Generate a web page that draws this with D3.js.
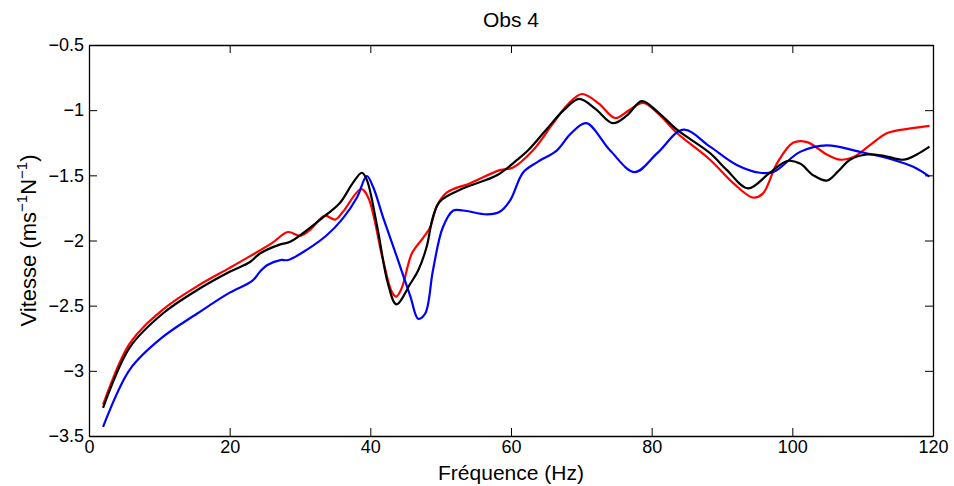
<!DOCTYPE html>
<html>
<head>
<meta charset="utf-8">
<script src="https://cdn.jsdelivr.net/npm/d3@7"></script>
<style>
body { margin: 0; background: #fff; }
text { font-family: "Liberation Sans", Arial, sans-serif; }
</style>
</head>
<body>
<div id="chart"></div>
<script>
var width = 954;
var height = 486;
var margin = {top: 45, right: 21, bottom: 50, left: 89};

// frequencies (Hz) and values
var blackFreq = [2, 5.8, 10.5, 15.4, 20, 22.9, 24.3, 27.2, 28.6, 31, 33.8, 35.7, 37.5, 38.8, 39.5, 41, 42.5, 43.7, 45.7, 46.8, 48, 48.9, 49.9, 53.2, 58, 60.9, 62.4, 65, 67.5, 69.7, 72, 74.5, 76.5, 78.6, 81, 83.6, 88.3, 90.7, 93.7, 96.8, 99.3, 101.1, 103, 104.9, 106.5, 108.2, 110.6, 113, 115.8, 117.7, 119.5];
var blackVal = [-3.285, -2.82, -2.56, -2.38, -2.24, -2.165, -2.10, -2.03, -2.01, -1.92, -1.80, -1.71, -1.56, -1.48, -1.535, -1.90, -2.33, -2.49, -2.33, -2.23, -2.05, -1.82, -1.70, -1.60, -1.50, -1.38, -1.31, -1.15, -1.0, -0.914, -0.99, -1.10, -1.04, -0.93, -1.02, -1.15, -1.33, -1.46, -1.60, -1.48, -1.39, -1.41, -1.50, -1.54, -1.47, -1.38, -1.34, -1.35, -1.38, -1.34, -1.28];

var redFreq = [2, 5.8, 10.5, 15.4, 20, 22.9, 26, 28.3, 30, 31.4, 33.5, 35, 36.1, 38.7, 39.7, 41.8, 43.1, 43.7, 44.5, 45.9, 47.5, 48.5, 49.5, 50.9, 54.2, 58.4, 60.3, 63.1, 66, 68, 70.1, 72.5, 74.8, 76.8, 78.8, 81, 83.6, 88.3, 91.6, 94.4, 95.8, 97.8, 100.1, 102.1, 104.9, 106.8, 108.7, 111, 113.5, 116.8, 119.5];
var redVal = [-3.26, -2.79, -2.53, -2.35, -2.21, -2.12, -2.02, -1.935, -1.965, -1.92, -1.81, -1.84, -1.78, -1.605, -1.67, -2.15, -2.40, -2.43, -2.36, -2.10, -1.98, -1.90, -1.73, -1.63, -1.56, -1.46, -1.44, -1.31, -1.10, -0.96, -0.876, -0.95, -1.06, -1.00, -0.945, -1.03, -1.175, -1.38, -1.56, -1.67, -1.64, -1.41, -1.25, -1.245, -1.34, -1.38, -1.36, -1.27, -1.175, -1.14, -1.12];

var blueFreq = [2, 5.8, 10.5, 15.4, 20, 23.2, 24.3, 25.3, 27.2, 28.3, 31, 33.8, 36.1, 38.1, 39.5, 40.4, 41.8, 43.8, 45.7, 46.8, 47.8, 48.9, 50.3, 51.8, 53.2, 56.6, 58.4, 59.9, 61.7, 63.7, 66.5, 68.5, 70.7, 74.1, 77.6, 80.8, 84.5, 88.3, 92.1, 95.4, 97.3, 101.1, 104.9, 109.6, 114.3, 117.2, 119.5];
var blueVal = [-3.43, -2.99, -2.74, -2.56, -2.40, -2.31, -2.24, -2.19, -2.15, -2.15, -2.07, -1.96, -1.83, -1.67, -1.505, -1.59, -1.82, -2.13, -2.43, -2.60, -2.56, -2.23, -1.90, -1.77, -1.77, -1.80, -1.78, -1.69, -1.48, -1.40, -1.31, -1.18, -1.10, -1.31, -1.475, -1.33, -1.15, -1.28, -1.42, -1.48, -1.475, -1.32, -1.27, -1.32, -1.38, -1.435, -1.51];

var xTicks = [0, 20, 40, 60, 80, 100, 120];
var yTicks = [-3.5, -3, -2.5, -2, -1.5, -1, -0.5];

var series = [
	{freq: redFreq, val: redVal, color: '#ff0000'},
	{freq: blueFreq, val: blueVal, color: '#0000ff'},
	{freq: blackFreq, val: blackVal, color: '#000000'}
];

var svg = d3.select('#chart').append('svg')
	.attr('width', width)
	.attr('height', height);

var x = d3.scaleLinear().domain([0, 120]).range([margin.left, width - margin.right]);
var y = d3.scaleLinear().domain([-3.5, -0.5]).range([height - margin.bottom, margin.top]);

var fmt = function(d){ return String(d).replace('-', '\u2212'); };

// curves
var line = d3.line()
	.x(function(d){ return x(d[0]); })
	.y(function(d){ return y(d[1]); })
	.curve(d3.curveCatmullRom.alpha(0.5));

series.forEach(function(s){
	svg.append('path')
		.datum(s.freq.map(function(f, i){ return [f, s.val[i]]; }))
		.attr('fill', 'none')
		.attr('stroke', s.color)
		.attr('stroke-width', 2.2)
		.attr('stroke-linejoin', 'round')
		.attr('d', line);
});

// axes, ticks inward like matlab
var tl = 8;
svg.append('g')
	.attr('transform', 'translate(0,' + (height - margin.bottom) + ')')
	.call(d3.axisBottom(x).tickValues(xTicks).tickSizeInner(-tl).tickSizeOuter(0).tickPadding(4).tickFormat(fmt));
svg.append('g')
	.attr('transform', 'translate(0,' + margin.top + ')')
	.call(d3.axisTop(x).tickValues(xTicks).tickSizeInner(-tl).tickSizeOuter(0).tickFormat(''));
svg.append('g')
	.attr('transform', 'translate(' + margin.left + ',0)')
	.call(d3.axisLeft(y).tickValues(yTicks).tickSizeInner(-tl).tickSizeOuter(0).tickPadding(5).tickFormat(fmt));
svg.append('g')
	.attr('transform', 'translate(' + (width - margin.right) + ',0)')
	.call(d3.axisRight(y).tickValues(yTicks).tickSizeInner(-tl).tickSizeOuter(0).tickFormat(''));

svg.selectAll('.domain').attr('stroke', '#000').attr('stroke-width', 1.3);
svg.selectAll('.tick line').attr('stroke', '#000').attr('stroke-width', 1);
svg.selectAll('.tick text')
	.style('font-family', '"Liberation Sans", Arial, sans-serif')
	.style('font-size', '18px')
	.attr('fill', '#000');

// title
svg.append('text')
	.attr('x', (margin.left + width - margin.right) / 2)
	.attr('y', 27)
	.attr('text-anchor', 'middle')
	.style('font-size', '21px')
	.text('Obs 4');

// x label
svg.append('text')
	.attr('x', (margin.left + width - margin.right) / 2)
	.attr('y', 480)
	.attr('text-anchor', 'middle')
	.style('font-size', '21px')
	.text('Fréquence (Hz)');

// y label with superscripts
var yl = svg.append('text')
	.attr('transform', 'translate(36,' + ((margin.top + height - margin.bottom) / 2) + ') rotate(-90)')
	.attr('text-anchor', 'middle')
	.style('font-size', '22px');
yl.append('tspan').text('Vitesse (ms');
yl.append('tspan').attr('dy', -9).style('font-size', '15px').text('\u22121');
yl.append('tspan').attr('dy', 9).text('N');
yl.append('tspan').attr('dy', -9).style('font-size', '15px').text('\u22121');
yl.append('tspan').attr('dy', 9).text(')');
</script>
</body>
</html>
